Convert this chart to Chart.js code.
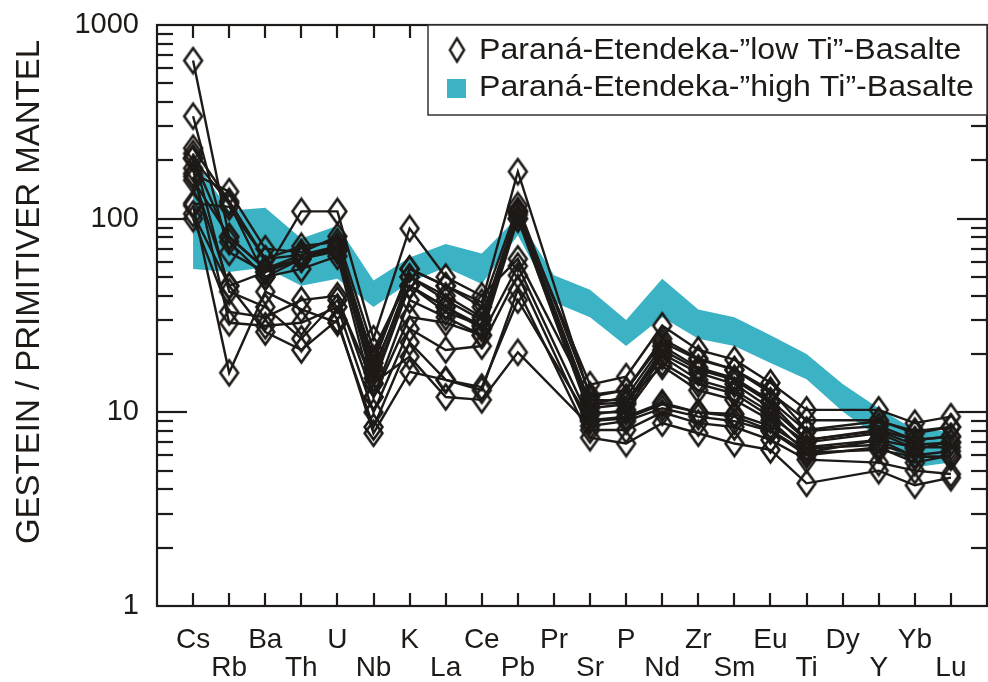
<!DOCTYPE html>
<html>
<head>
<meta charset="utf-8">
<script src="https://cdn.jsdelivr.net/npm/chart.js@4.4.1/dist/chart.umd.min.js"></script>
<style>
  body { margin: 0; background: #fff; }
</style>
</head>
<body>
<canvas id="spider" width="988" height="682"></canvas>
<script>
// element order of the spider diagram
const elements = ['Cs','Rb','Ba','Th','U','Nb','K','La','Ce','Pb','Pr','Sr','P','Nd','Zr','Sm','Eu','Ti','Dy','Y','Yb','Lu'];
const yTicks = [1, 10, 100, 1000];

// field of the "high Ti" basalts (upper and lower edge)
const highTiTop    = [205, 110, 114, 79, 92, 48, 63, 74, 66, 102, 51, 43, 30, 49, 34, 31, 25, 20, 14, 10.5, 8.1, 8.0];
const highTiBottom = [55, 53, 56, 45, 49, 35, 47, 56, 46, 82, 37, 31, 22, 31, 24, 22, 18, 14.8, 10.1, 7.4, 5.2, 5.5];

// "low Ti" basalts, one array per sample (Pr and Dy not analysed)
const lowTi1  = [655, 80, 55, 65, 72, 16, 50, 38, 30, 110, null, 11, 12, 22, 17, 15, 11.5, 8, null, 8.5, 7.2, 7.5];
const lowTi2  = [338, 67, 53, 62, 68, 14, 45, 35, 28, 105, null, 10.5, 11, 20, 16, 14, 10.5, 7.2, null, 8, 6.8, 7];
const lowTi3  = [231, 123, 62, 72, 76, 18, 55, 45, 35, 117, null, 12.3, 13, 24, 19, 16.6, 12.6, 9.1, null, 9.1, 7.8, 8.4];
const lowTi4  = [205, 76, 50, 55, 64, 12, 38, 31, 25, 100, null, 9.7, 10.3, 19.4, 14.7, 13, 10, 6.6, null, 7.2, 6.6, 6.6];
const lowTi5  = [171, 138, 70, 67, 81, 21, 50, 40, 31, 109, null, 13.9, 15.3, 28, 21, 18.7, 14.2, 10.3, null, 10.3, 8.8, 9.5];
const lowTi6  = [158, 81, 55, 62, 70, 17, 45, 35, 27, 108, null, 11, 11.2, 21, 16.6, 14.7, 11.2, 7.2, null, 8.1, 7.2, 7.5];
const lowTi7  = [106, 45, 53, 109, 109, 24, 89, 50, 40, 62, null, 11.6, 11.5, 17.3, 13, 11.6, 9.1, 6.2, null, 7.2, 5.9, 5.9];
const lowTi8  = [120, 115, 62, 65, 70, 19, 55, 45, 37, 175, null, 12, 13, 23, 18.7, 16.6, 13, 8.1, null, 9, 8, 8.4];
const lowTi9  = [100, 33, 31, 38, 40, 12, 31, 29, 25, 57, null, 9.1, 9.5, 11.2, 10, 9.5, 8.1, 6.2, null, 6.4, 5.9, 5.9];
const lowTi10 = [182, 29, 28, 29, 35, 10, 27, 21, 22, 51, null, 8.1, 8.1, 10, 8.8, 8.4, 7.2, 5.7, null, 5.5, 5, 4.8];
const lowTi11 = [117, 16, 42, 34, 29, 8.4, 23, 14.7, 13, 43, null, 7.4, 6.9, 8.8, 7.8, 6.9, 6.4, 4.3, null, 5, 4.2, 4.6];
const lowTi12 = [217, 42, 35, 24, 38, 14.2, 19.4, 12, 11.6, 20.4, null, 8.5, 9, 10.5, 9.5, 9, 8, 6, null, 6.6, 5.5, 6];
const lowTi13 = [165, 45, 26, 21, 30, 7.8, 16.2, 14.7, 13.5, 38, null, 9, 9.3, 11, 10, 9.8, 8.5, 6.5, null, 6.8, 6, 6.3];
const lowTi14 = [205, 120, 50, 62, 72, 15, 45, 33, 28, 100, null, 10, 10, 18, 14, 12.5, 9.5, 7, null, 7.8, 6.5, 7];
const lowTiSamples = [lowTi1, lowTi2, lowTi3, lowTi4, lowTi5, lowTi6, lowTi7, lowTi8, lowTi9, lowTi10, lowTi11, lowTi12, lowTi13, lowTi14];

const ink = '#1e1a17';
const teal = '#3bb3c4';
const font = "'Liberation Sans', Arial, sans-serif";

// open diamond marker, taller than wide
function diamond(w, h, lw) {
    const c = document.createElement('canvas');
    c.width = w + lw * 2;
    c.height = h + lw * 2;
    const g = c.getContext('2d');
    g.strokeStyle = ink;
    g.lineWidth = lw;
    g.beginPath();
    g.moveTo(c.width / 2, lw);
    g.lineTo(c.width - lw, c.height / 2);
    g.lineTo(c.width / 2, c.height - lw);
    g.lineTo(lw, c.height / 2);
    g.closePath();
    g.stroke();
    return c;
}
const marker = diamond(18, 25, 2.6);
const legendMarker = diamond(15, 24, 2.4);

function toPoints(arr) {
    return arr.map((v, i) => ({ x: i, y: v }));
}

const datasets = [];
lowTiSamples.forEach(function(s) {
    datasets.push({
        data: toPoints(s),
        borderColor: ink,
        borderWidth: 2.4,
        pointStyle: marker,
        pointRadius: 9,
        spanGaps: true,
        fill: false,
        order: 1
    });
});
datasets.push({
    data: toPoints(highTiTop),
    borderWidth: 0,
    borderColor: teal,
    backgroundColor: teal,
    pointRadius: 0,
    fill: '+1',
    order: 20
});
datasets.push({
    data: toPoints(highTiBottom),
    borderWidth: 0,
    borderColor: teal,
    pointRadius: 0,
    fill: false,
    order: 21
});

// frame with inward ticks, y title and boxed legend
const decorations = {
    id: 'decorations',
    afterDraw(chart) {
        const ctx = chart.ctx;
        const a = chart.chartArea;
        const x = chart.scales.x;
        const y = chart.scales.y;
        ctx.save();
        ctx.strokeStyle = ink;
        ctx.lineWidth = 2.2;
        function seg(x1, y1, x2, y2) {
            ctx.beginPath();
            ctx.moveTo(x1, y1);
            ctx.lineTo(x2, y2);
            ctx.stroke();
        }
        ctx.strokeRect(a.left, a.top, a.right - a.left, a.bottom - a.top);
        elements.forEach(function(e, i) {
            const px = Math.round(x.getPixelForValue(i));
            seg(px, a.bottom, px, a.bottom - 13);
            seg(px, a.top, px, a.top + 13);
        });
        for (let d = 1; d < 1000; d *= 10) {
            for (let m = 1; m <= 9; m++) {
                if (d * m === 1) continue;
                const py = Math.round(y.getPixelForValue(d * m));
                const len = m === 1 ? 30 : 16;
                seg(a.left, py, a.left + len, py);
                seg(a.right, py, a.right - len, py);
            }
        }

        // y axis title
        ctx.fillStyle = ink;
        ctx.font = '33px ' + font;
        ctx.textAlign = 'center';
        ctx.textBaseline = 'middle';
        ctx.translate(30, 292);
        ctx.rotate(-Math.PI / 2);
        ctx.fillText('GESTEIN / PRIMITIVER MANTEL', 0, 0);
        ctx.restore();

        // legend
        ctx.save();
        ctx.fillStyle = '#fff';
        ctx.fillRect(428, a.top, a.right - 428, 90);
        ctx.strokeStyle = '#333';
        ctx.lineWidth = 1.5;
        ctx.strokeRect(428, a.top, a.right - 428, 90);
        ctx.drawImage(legendMarker, 457 - legendMarker.width / 2, 50 - legendMarker.height / 2);
        ctx.fillStyle = teal;
        ctx.fillRect(447, 79, 19, 19);
        ctx.fillStyle = ink;
        ctx.font = '30px ' + font;
        ctx.textAlign = 'left';
        ctx.textBaseline = 'middle';
        ctx.translate(479, 0);
        ctx.scale(1.07, 1);
        ctx.fillText('Paraná-Etendeka-\u201Dlow Ti\u201D-Basalte', 0, 51);
        ctx.fillText('Paraná-Etendeka-\u201Dhigh Ti\u201D-Basalte', 0, 88);
        ctx.restore();
    }
};

new Chart(document.getElementById('spider'), {
    type: 'line',
    data: { datasets: datasets },
    options: {
        responsive: false,
        animation: false,
        devicePixelRatio: 1,
        layout: { autoPadding: false, padding: { left: 0, top: 25, right: 1, bottom: 0 } },
        plugins: {
            legend: { display: false },
            tooltip: { enabled: false }
        },
        scales: {
            x: {
                type: 'linear',
                min: -1,
                max: 22,
                afterBuildTicks: function(s) {
                    s.ticks = elements.map((e, i) => ({ value: i }));
                },
                afterFit: function(s) {
                    s.height = 76;
                    s.paddingLeft = 0;
                    s.paddingRight = 0;
                },
                grid: { display: false, drawTicks: false },
                border: { display: false },
                ticks: {
                    autoSkip: false,
                    maxRotation: 0,
                    padding: 20,
                    color: ink,
                    font: { family: font, size: 28, lineHeight: 1.0 },
                    callback: function(v) {
                        return v % 2 ? ['', elements[v]] : elements[v];
                    }
                }
            },
            y: {
                type: 'logarithmic',
                min: 1,
                max: 1000,
                afterBuildTicks: function(s) {
                    s.ticks = yTicks.map(v => ({ value: v }));
                },
                afterFit: function(s) {
                    s.width = 157;
                    s.paddingTop = 0;
                    s.paddingBottom = 0;
                },
                grid: { display: false, drawTicks: false },
                border: { display: false },
                ticks: {
                    padding: 18,
                    color: ink,
                    font: { family: font, size: 29 },
                    callback: function(v) { return String(v); }
                }
            }
        }
    },
    plugins: [decorations]
});
</script>
</body>
</html>
